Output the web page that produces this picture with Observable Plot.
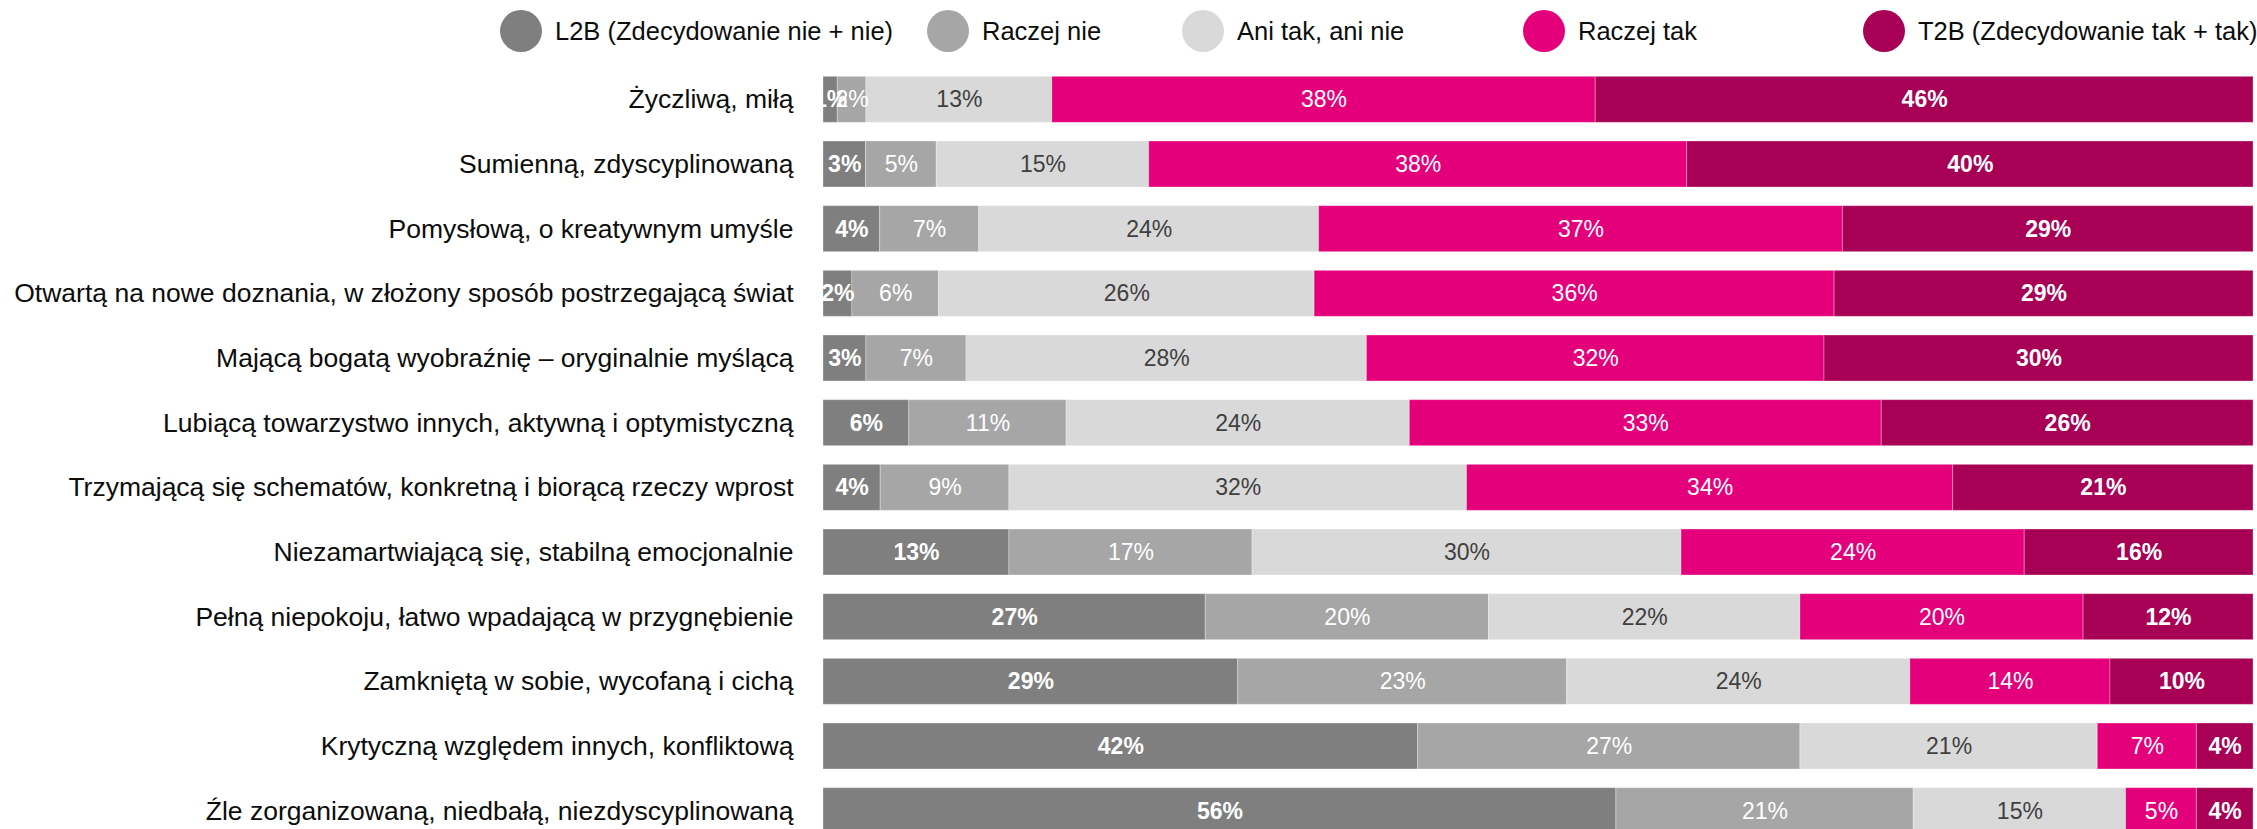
<!DOCTYPE html>
<html><head><meta charset="utf-8">
<script src="https://cdn.jsdelivr.net/npm/d3@7"></script>
<script src="https://cdn.jsdelivr.net/npm/@observablehq/plot@0.6"></script>
<style>
body{margin:0;background:#fff;overflow:hidden;font-family:'Liberation Sans',Arial,sans-serif}
#legend{position:relative;height:60px;width:2257px}
.item{position:absolute;top:10px;height:42px;display:flex;align-items:center;font-size:25.5px;color:#0d0d0d;white-space:nowrap}
.item svg{margin-right:13px}
#chart svg{display:block}
</style></head><body>
<div id="legend"></div><div id="chart"></div>
<script>
const categories = [
  "Życzliwą, miłą",
  "Sumienną, zdyscyplinowaną",
  "Pomysłową, o kreatywnym umyśle",
  "Otwartą na nowe doznania, w złożony sposób postrzegającą świat",
  "Mającą bogatą wyobraźnię – oryginalnie myślącą",
  "Lubiącą towarzystwo innych, aktywną i optymistyczną",
  "Trzymającą się schematów, konkretną i biorącą rzeczy wprost",
  "Niezamartwiającą się, stabilną emocjonalnie",
  "Pełną niepokoju, łatwo wpadającą w przygnębienie",
  "Zamkniętą w sobie, wycofaną i cichą",
  "Krytyczną względem innych, konfliktową",
  "Źle zorganizowaną, niedbałą, niezdyscyplinowaną"
];
const series = ["L2B (Zdecydowanie nie + nie)", "Raczej nie", "Ani tak, ani nie", "Raczej tak", "T2B (Zdecydowanie tak + tak)"];
const l2b       = [1, 3, 4, 2, 3, 6, 4, 13, 27, 29, 42, 56];
const raczejNie = [2, 5, 7, 6, 7, 11, 9, 17, 20, 23, 27, 21];
const aniTakAni = [13, 15, 24, 26, 28, 24, 32, 30, 22, 24, 21, 15];
const raczejTak = [38, 38, 37, 36, 32, 33, 34, 24, 20, 14, 7, 5];
const t2b       = [46, 40, 29, 29, 30, 26, 21, 16, 12, 10, 4, 4];

const colors = ["#7f7f7f", "#a6a6a6", "#d9d9d9", "#e4007b", "#a70055"];
const legendX = [521, 948, 1203, 1544, 1884];

const valuesBySeries = [l2b, raczejNie, aniTakAni, raczejTak, t2b];
const data = [];
categories.forEach((c, i) => {
  series.forEach((s, j) => data.push({cat: c, series: s, value: valuesBySeries[j][i]}));
});

// legend
const legend = document.getElementById("legend");
series.forEach((s, j) => {
  const div = document.createElement("div");
  div.className = "item";
  div.style.left = (legendX[j] - 21) + "px";
  div.innerHTML = `<svg width="42" height="42"><circle cx="21" cy="21" r="21" fill="${colors[j]}"/></svg><span>${s}</span>`;
  legend.appendChild(div);
});

const stackOpts = {x: "value", y: "cat", z: "series", offset: "normalize"};
const lbl = d => d.value + "%";
const labelMark = (test, fill, weight) =>
  Plot.text(data, Plot.filter(test, Plot.stackX({...stackOpts, text: lbl, fill, fontWeight: weight, fontSize: 23})));

const chart = Plot.plot({
  width: 2257,
  height: 783,
  marginTop: 7,
  marginBottom: 0,
  marginLeft: 823,
  marginRight: 4,
  style: {fontFamily: "'Liberation Sans', Arial, sans-serif", background: "#fff"},
  x: {axis: null},
  y: {domain: categories, paddingInner: 0.289, paddingOuter: 0.1445, round: false, label: null, axis: null},
  color: {domain: series, range: colors},
  marks: [
    Plot.barX(data, Plot.stackX({...stackOpts, fill: "series", stroke: "#fff", strokeOpacity: 0.3, strokeWidth: 1})),
    labelMark(d => d.series === series[0] || d.series === series[4], "#fff", "bold"),
    labelMark(d => d.series === series[1] || d.series === series[3], "#fff", "normal"),
    labelMark(d => d.series === series[2], "#404040", "normal"),
    Plot.axisY({tickSize: 0, tickPadding: 30, fontSize: 26.5, fill: "#0d0d0d", label: null})
  ]
});
document.getElementById("chart").appendChild(chart);
</script>
</body></html>
